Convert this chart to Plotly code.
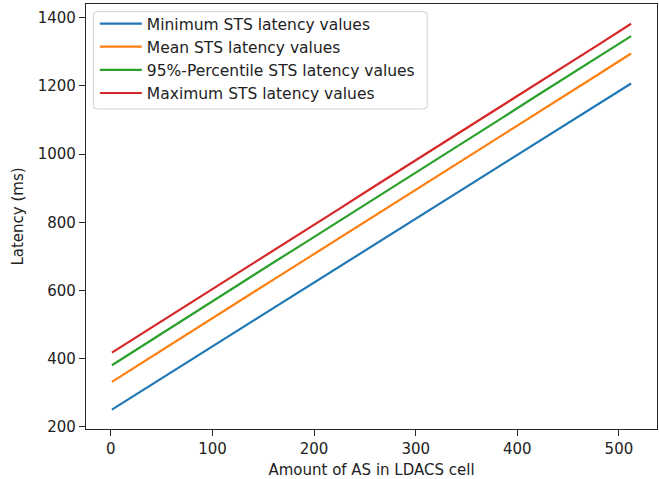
import plotly.graph_objects as go

# Data
as_count = [1, 32, 64, 96, 128, 160, 192, 224, 256, 288, 320, 352, 384, 416, 448, 480, 512]
min_latency = [251, 309, 369, 429, 489, 548, 608, 668, 728, 788, 848, 908, 968, 1027, 1087, 1147, 1207]
mean_latency = [332, 390, 451, 511, 571, 632, 692, 752, 812, 873, 933, 993, 1053, 1114, 1174, 1234, 1295]
p95_latency = [381, 440, 500, 561, 621, 682, 742, 802, 863, 923, 984, 1044, 1104, 1165, 1225, 1286, 1346]
max_latency = [418, 476, 537, 597, 657, 718, 778, 838, 899, 959, 1019, 1080, 1140, 1200, 1261, 1321, 1382]

series_names = [
    "Minimum STS latency values",
    "Mean STS latency values",
    "95%-Percentile STS latency values",
    "Maximum STS latency values",
]
series_values = [min_latency, mean_latency, p95_latency, max_latency]
colors = ["#1f77b4", "#ff7f0e", "#2ca02c", "#d62728"]

x_ticks = [0, 100, 200, 300, 400, 500]
y_ticks = [200, 400, 600, 800, 1000, 1200, 1400]

fig = go.Figure()
for name, vals, col in zip(series_names, series_values, colors):
    fig.add_trace(go.Scatter(x=as_count, y=vals, mode="lines", name=name,
                             line=dict(color=col, width=2.2)))

font_family = "DejaVu Sans"
axis_color = "#262626"

# legend frame drawn as a rounded box (paper coordinates)
lx0, lx1, ly0, ly1 = 0.0128, 0.5975, 0.7531, 0.9819
r = 0.006
ry = r * 570.7 / 425.3
legend_path = (
    f"M {lx0 + r},{ly0} L {lx1 - r},{ly0} Q {lx1},{ly0} {lx1},{ly0 + ry} "
    f"L {lx1},{ly1 - ry} Q {lx1},{ly1} {lx1 - r},{ly1} "
    f"L {lx0 + r},{ly1} Q {lx0},{ly1} {lx0},{ly1 - ry} "
    f"L {lx0},{ly0 + ry} Q {lx0},{ly0} {lx0 + r},{ly0} Z"
)

fig.update_layout(
    width=659, height=479,
    margin=dict(l=86, r=2, t=4, b=50, autoexpand=False),
    paper_bgcolor="white", plot_bgcolor="white",
    font=dict(family=font_family, size=15, color="#222222"),
    showlegend=True,
    legend=dict(
        x=0.0155, y=0.993, xanchor="left", yanchor="top",
        bgcolor="rgba(0,0,0,0)", borderwidth=0,
        itemwidth=42,
        font=dict(family=font_family, size=15.5, color="#222222"),
        traceorder="normal",
    ),
    shapes=[dict(type="path", xref="paper", yref="paper", path=legend_path,
                 line=dict(color="#d0d0d0", width=1), fillcolor="rgba(255,255,255,0.8)",
                 layer="above")],
)

fig.update_xaxes(
    range=[-24.5, 537.5], tickvals=x_ticks, automargin=False,
    showgrid=False, zeroline=False,
    showline=True, linecolor=axis_color, linewidth=1.3, mirror=True,
    ticks="outside", ticklen=6, tickwidth=1.2, tickcolor=axis_color,
    tickfont=dict(size=15),
    title=dict(text="Amount of AS in LDACS cell", font=dict(size=15), standoff=10),
)
fig.update_yaxes(
    range=[194, 1440], tickvals=y_ticks, automargin=False,
    showgrid=False, zeroline=False,
    showline=True, linecolor=axis_color, linewidth=1.3, mirror=True,
    ticks="outside", ticklen=6, tickwidth=1.2, tickcolor=axis_color,
    tickfont=dict(size=15),
    title=dict(text="Latency (ms)", font=dict(size=15), standoff=10),
)

fig.write_html("out.html", config={"displayModeBar": False},
               post_script="document.body.style.margin='0px';")
